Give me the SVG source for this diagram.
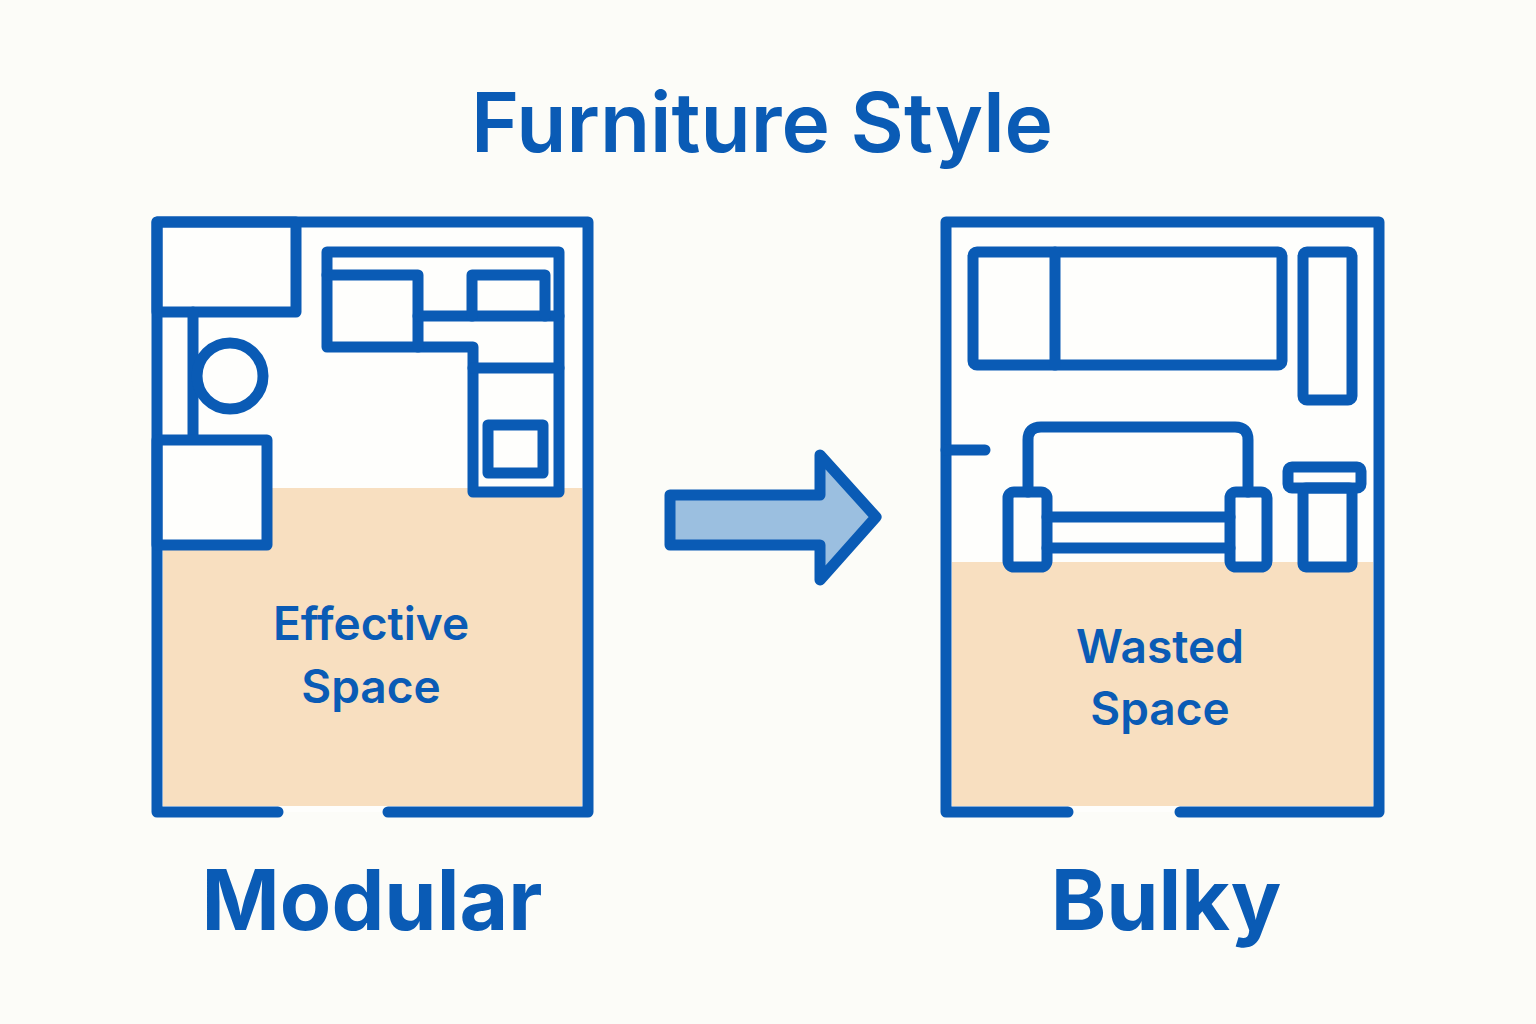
<svg xmlns="http://www.w3.org/2000/svg" width="1536" height="1024" viewBox="0 0 1536 1024">
<style>
.s{fill:none;stroke:#0a5bb5;stroke-width:11;stroke-linejoin:round;stroke-linecap:round}
.t{fill:#0a5bb5;font-family:Inter,"Open Sans",sans-serif;text-anchor:middle}
</style>
<rect width="1536" height="1024" fill="#fcfcf8"/>
<text class="t" x="762" y="152" font-size="82" font-weight="600">Furniture Style</text>
<g id="modular">
<rect x="157" y="222" width="431" height="590" fill="#fefefc"/>
<path d="M272,488 H582 V806 H163 V548 H272 Z" fill="#f8dfc0"/>
<path class="s" d="M278,812 H157 V222 H588 V812 H388"/>
<rect class="s" x="157" y="222" width="139" height="90"/>
<line class="s" x1="193" y1="312" x2="193" y2="437"/>
<circle class="s" cx="230" cy="376" r="33"/>
<rect class="s" x="157" y="440" width="110" height="105"/>
<path class="s" d="M327,252 H559 V492 H473 V347 H327 Z"/>
<path class="s" d="M327,275 H418 V347"/>
<line class="s" x1="418" y1="316" x2="559" y2="316"/>
<path class="s" d="M472,316 V275 H545 V316"/>
<line class="s" x1="473" y1="368" x2="559" y2="368"/>
<rect class="s" x="488" y="425" width="55" height="48"/>
<text class="t" x="371" y="640" font-size="46" font-weight="600">Effective</text>
<text class="t" x="371" y="703" font-size="46" font-weight="600">Space</text>
</g>
<g id="arrow">
<path d="M670,495 H820 V455 L876,517 L820,580 V545 H670 Z" fill="#9bbfe0" stroke="#0a5bb5" stroke-width="11" stroke-linejoin="round"/>
</g>
<g id="bulky">
<rect x="946" y="222" width="433" height="590" fill="#fefefc"/>
<rect x="952" y="562" width="421" height="244" fill="#f8dfc0"/>
<path class="s" d="M1068,812 H946 V222 H1379 V812 H1180"/>
<line class="s" x1="946" y1="450" x2="985" y2="450"/>
<rect class="s" x="973" y="252" width="309" height="113" rx="4"/>
<line class="s" x1="1055" y1="252" x2="1055" y2="365"/>
<rect class="s" x="1303" y="252" width="49" height="148" rx="4"/>
<path class="s" d="M1028,492 V440 Q1028,427 1041,427 H1235 Q1248,427 1248,440 V492"/>
<rect class="s" x="1008" y="492" width="39" height="75" rx="6"/>
<rect class="s" x="1230" y="492" width="37" height="75" rx="6"/>
<line class="s" x1="1047" y1="517" x2="1230" y2="517"/>
<line class="s" x1="1047" y1="548" x2="1230" y2="548"/>
<rect class="s" x="1288" y="467" width="73" height="21" rx="4"/>
<rect class="s" x="1303" y="488" width="49" height="79" rx="3"/>
<text class="t" x="1160" y="663" font-size="46" font-weight="600">Wasted</text>
<text class="t" x="1160" y="725" font-size="46" font-weight="600">Space</text>
</g>
<text class="t" x="372" y="930" font-size="84" font-weight="700">Modular</text>
<text class="t" x="1166" y="930" font-size="84" font-weight="700">Bulky</text>
</svg>
